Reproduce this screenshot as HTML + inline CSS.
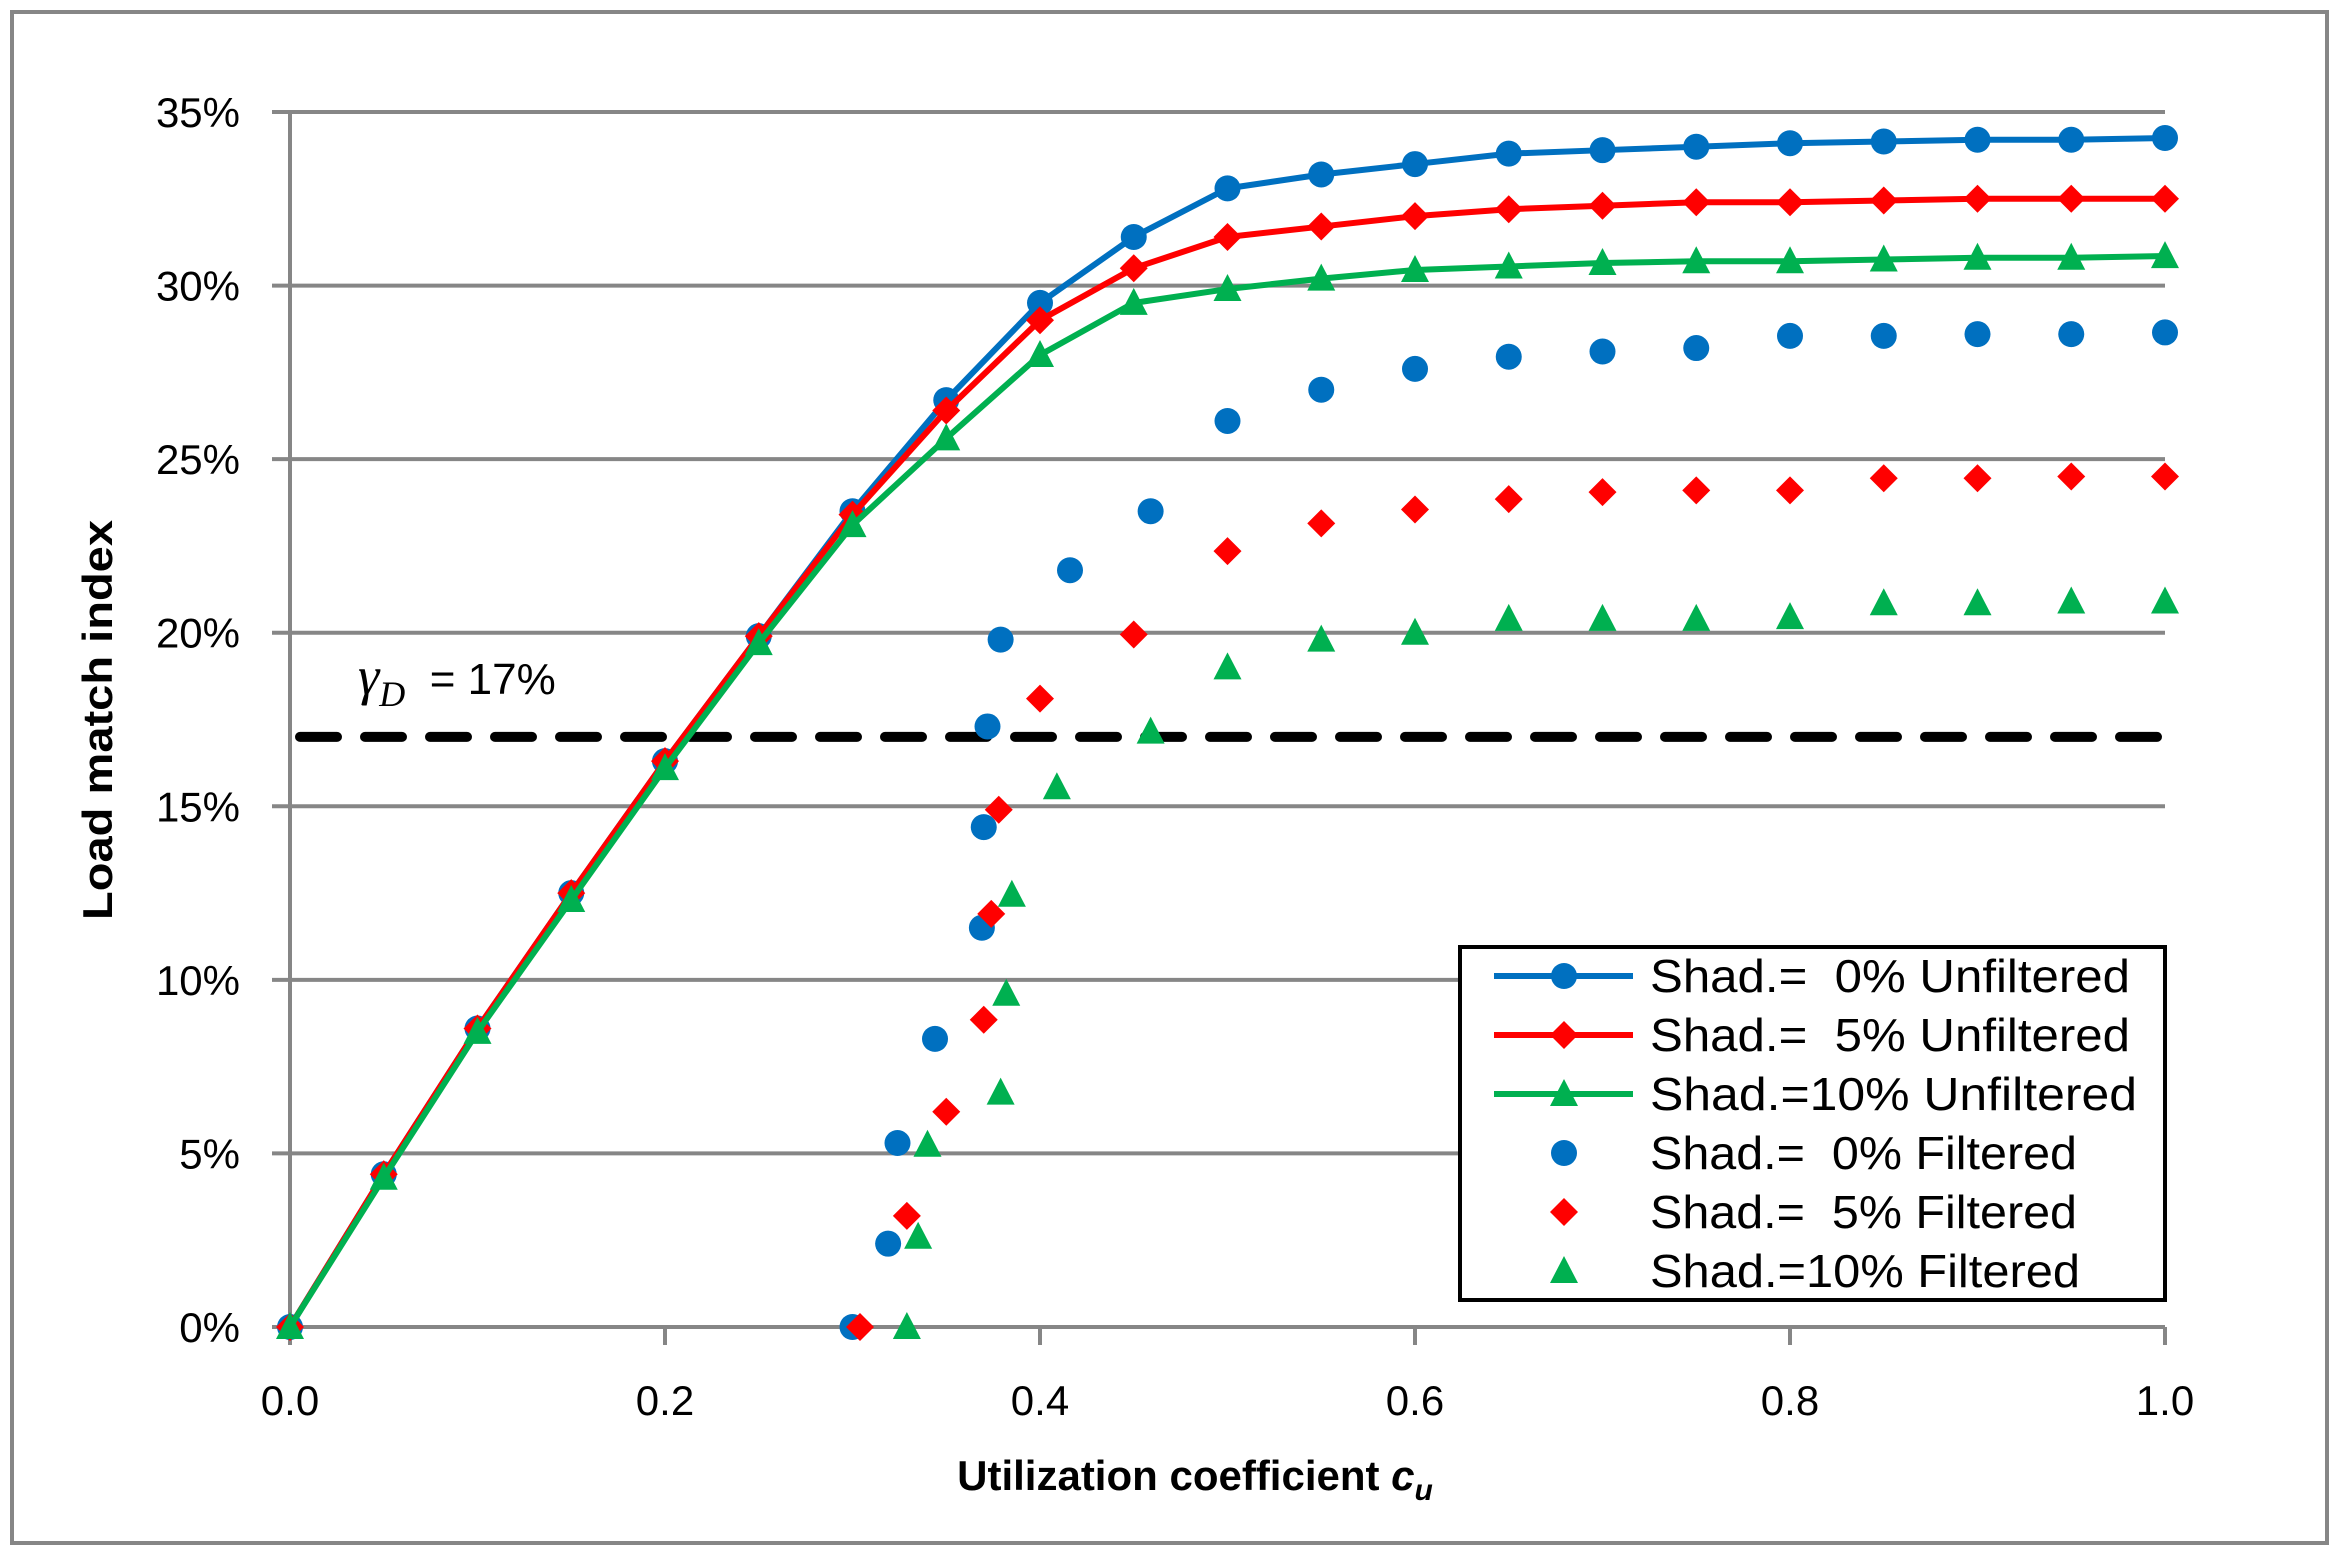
<!DOCTYPE html>
<html><head><meta charset="utf-8"><style>
html,body{margin:0;padding:0;background:#fff;}
svg{display:block;}
text{font-family:"Liberation Sans",sans-serif;white-space:pre;}
</style></head><body>
<svg id="chart" width="2340" height="1557" viewBox="0 0 2340 1557" xmlns="http://www.w3.org/2000/svg">
<rect x="12" y="12" width="2315" height="1531" fill="#fff" stroke="#868686" stroke-width="4"/>
<g id="grid"></g>
<g id="axes"></g>
<g id="series"></g>
<text transform="translate(112,720) rotate(-90)" text-anchor="middle" font-size="42" font-weight="bold" textLength="400" lengthAdjust="spacingAndGlyphs">Load match index</text>
<text x="1195" y="1490" text-anchor="middle" font-size="42" font-weight="bold">Utilization coefficient <tspan font-style="italic">c</tspan><tspan font-style="italic" font-size="30" dy="10">u</tspan></text>
<text x="358" y="694" font-size="44"><tspan font-family="Liberation Serif" font-style="italic" font-size="54">γ</tspan><tspan font-family="Liberation Serif" font-style="italic" font-size="36" dy="12">D</tspan><tspan dy="-12">  = 17%</tspan></text>
<g id="legend">
<rect x="1460" y="947" width="705" height="353" fill="#fff" stroke="#000" stroke-width="4"/>
</g>
</svg>
<script>
const unfX = [0,0.05,0.1,0.15,0.2,0.25,0.3,0.35,0.4,0.45,0.5,0.55,0.6,0.65,0.7,0.75,0.8,0.85,0.9,0.95,1.0];
const unf0 = [0,4.4,8.6,12.5,16.3,19.9,23.5,26.7,29.5,31.4,32.8,33.2,33.5,33.8,33.9,34.0,34.1,34.15,34.2,34.2,34.25];
const unf5 = [0,4.4,8.6,12.5,16.3,19.9,23.4,26.4,29.0,30.5,31.4,31.7,32.0,32.2,32.3,32.4,32.4,32.45,32.5,32.5,32.5];
const unf10 = [0,4.3,8.5,12.3,16.1,19.7,23.1,25.6,28.0,29.5,29.9,30.2,30.45,30.55,30.65,30.7,30.7,30.75,30.8,30.8,30.85];
const fil0X = [0.3,0.319,0.324,0.344,0.369,0.37,0.372,0.379,0.416,0.459,0.5,0.55,0.6,0.65,0.7,0.75,0.8,0.85,0.9,0.95,1.0];
const fil0Y = [0,2.4,5.3,8.3,11.5,14.4,17.3,19.8,21.8,23.5,26.1,27.0,27.6,27.95,28.1,28.2,28.55,28.55,28.6,28.6,28.65];
const fil5X = [0.304,0.329,0.35,0.37,0.374,0.378,0.4,0.45,0.5,0.55,0.6,0.65,0.7,0.75,0.8,0.85,0.9,0.95,1.0];
const fil5Y = [0,3.2,6.2,8.85,11.9,14.9,18.1,19.95,22.35,23.15,23.55,23.85,24.05,24.1,24.1,24.45,24.45,24.5,24.5];
const fil10X = [0.329,0.335,0.34,0.379,0.382,0.385,0.409,0.459,0.5,0.55,0.6,0.65,0.7,0.75,0.8,0.85,0.9,0.95,1.0];
const fil10Y = [0,2.6,5.25,6.75,9.6,12.45,15.55,17.15,19.0,19.8,20.0,20.4,20.4,20.4,20.45,20.85,20.85,20.9,20.9];
const yTicks = [0,5,10,15,20,25,30,35];
const yTickLabels = ["0%","5%","10%","15%","20%","25%","30%","35%"];
const xTicks = [0,0.2,0.4,0.6,0.8,1.0];
const xTickLabels = ["0.0","0.2","0.4","0.6","0.8","1.0"];
const threshold = 17;
const legendLabels = ["Shad.=  0% Unfiltered","Shad.=  5% Unfiltered","Shad.=10% Unfiltered","Shad.=  0% Filtered","Shad.=  5% Filtered","Shad.=10% Filtered"];

const NS="http://www.w3.org/2000/svg";
const X0=290,X1=2165,Y0=1327,Y35=112;
const sx=v=>X0+(X1-X0)*v;
const sy=v=>Y0-(Y0-Y35)*v/35;
function mk(tag,attrs,parent){const e=document.createElementNS(NS,tag);for(const k in attrs)e.setAttribute(k,attrs[k]);parent.appendChild(e);return e;}
const grid=document.getElementById('grid'),axes=document.getElementById('axes'),ser=document.getElementById('series'),leg=document.getElementById('legend');
const BLUE="#0070C0",RED="#FF0000",GREEN="#00B050";

yTicks.forEach((t,i)=>{
  const g=mk('line',{x1:X0-18,x2:X1,y1:sy(t),y2:sy(t),stroke:'#868686','stroke-width':4},grid);
  
  
  const tx=mk('text',{x:240,y:sy(t)+15,'text-anchor':'end','font-size':42},axes);
  tx.textContent=yTickLabels[i];
  
  
});
const ya=mk('line',{x1:X0,x2:X0,y1:Y35,y2:Y0,stroke:'#868686','stroke-width':4},axes);


xTicks.forEach((t,i)=>{
  const tk=mk('line',{x1:sx(t),x2:sx(t),y1:Y0,y2:Y0+18,stroke:'#868686','stroke-width':4},axes);
  
  
  const tx=mk('text',{x:sx(t),y:1415,'text-anchor':'middle','font-size':42},axes);
  tx.textContent=xTickLabels[i];
  
  
});
const th=mk('line',{x1:X0+10,x2:X1,y1:sy(threshold),y2:sy(threshold),stroke:'#000','stroke-width':10,'stroke-dasharray':'37 28','stroke-linecap':'round'},ser);



function marker(type,x,y,color,parent,name){
  let e;
  if(type==='c') e=mk('circle',{cx:x,cy:y,r:13,fill:color},parent);
  else if(type==='d') e=mk('polygon',{points:`${x},${y-14} ${x+14},${y} ${x},${y+14} ${x-14},${y}`,fill:color},parent);
  else e=mk('polygon',{points:`${x},${y-15} ${x+14},${y+12} ${x-14},${y+12}`,fill:color},parent);
  
  
}
function lineSeries(xs,ys,color,type,name){
  const g=mk('g',{},ser);
  
  
  const p=mk('polyline',{points:xs.map((x,i)=>sx(x)+','+sy(ys[i])).join(' '),fill:'none',stroke:color,'stroke-width':6,'stroke-linejoin':'round'},g);
  
  
  xs.forEach((x,i)=>marker(type,sx(x),sy(ys[i]),color,g,name+'-point'));
}
function scatter(xs,ys,color,type,name){
  const g=mk('g',{},ser);
  
  
  xs.forEach((x,i)=>marker(type,sx(x),sy(ys[i]),color,g,name+'-point'));
}
scatter(fil0X,fil0Y,BLUE,'c','filtered-0');
scatter(fil5X,fil5Y,RED,'d','filtered-5');
scatter(fil10X,fil10Y,GREEN,'t','filtered-10');
lineSeries(unfX,unf0,BLUE,'c','unfiltered-0');
lineSeries(unfX,unf5,RED,'d','unfiltered-5');
lineSeries(unfX,unf10,GREEN,'t','unfiltered-10');

const legCols=[BLUE,RED,GREEN,BLUE,RED,GREEN],legTypes=['c','d','t','c','d','t'];
const legW=[480,480,487,427,427,430];
legendLabels.forEach((lab,i)=>{
  const y=976+i*59;
  const g=mk('g',{},leg);
  
  
  if(i<3){const l=mk('line',{x1:1494,x2:1633,y1:y,y2:y,stroke:legCols[i],'stroke-width':6},g);
    
    }
  marker(legTypes[i],1564,y,legCols[i],g,'legend-marker');
  const t=mk('text',{x:1650,y:y+16,'font-size':46,textLength:legW[i],lengthAdjust:'spacingAndGlyphs'},g);
  t.textContent=lab;
  
  
});
</script>
</body></html>
